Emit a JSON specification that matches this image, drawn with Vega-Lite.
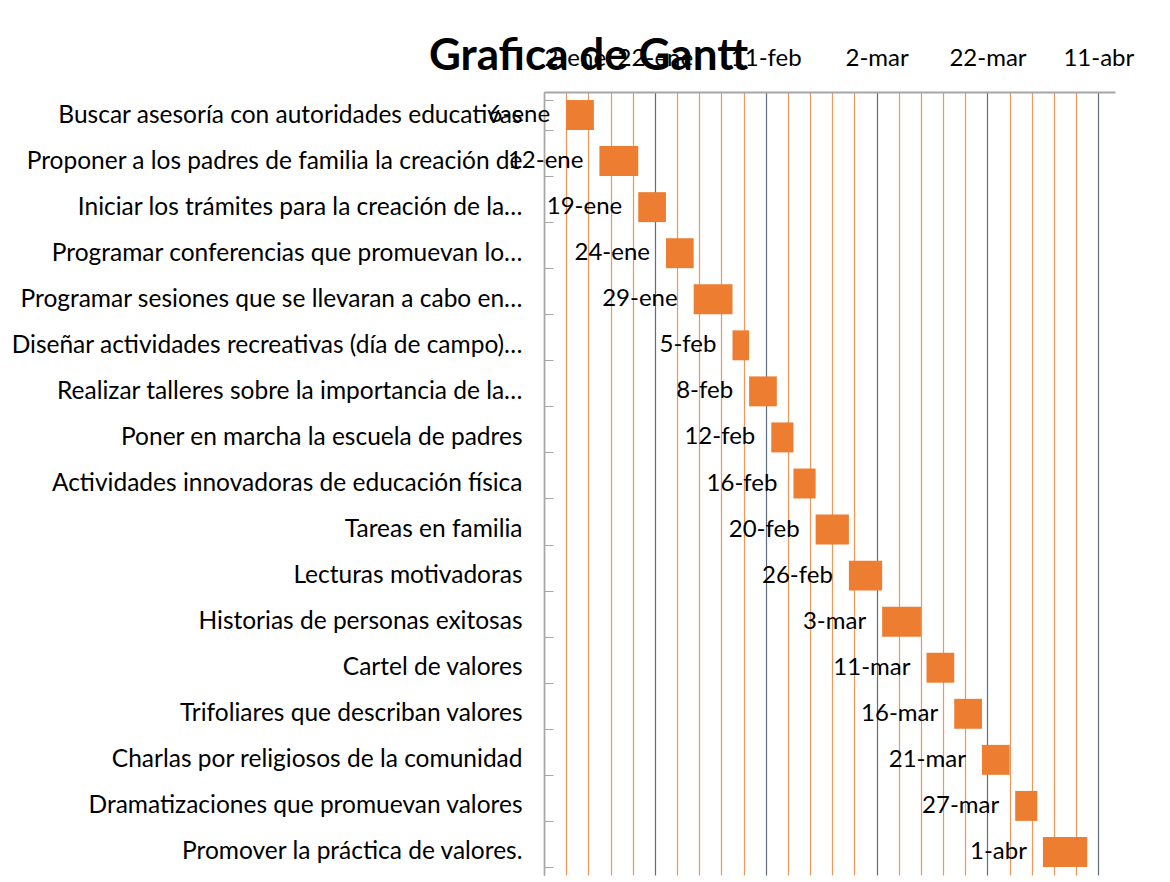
{
  "$schema": "https://vega.github.io/schema/vega-lite/v6.json",
  "width": 571,
  "height": 783,
  "autosize": {"type": "none"},
  "padding": {"left": 544, "top": 92, "right": 55, "bottom": 7},
  "background": "white",
  "title": {
    "text": "Grafica de Gantt",
    "font": "Lato",
    "fontSize": 44,
    "fontWeight": "bold",
    "color": "#000000",
    "anchor": "middle",
    "frame": "group",
    "baseline": "alphabetic",
    "offset": -68,
    "dx": -241
  },
  "data": {
    "values": [
      {"task": "Buscar asesoría con autoridades educativas", "start": "2016-01-06", "end": "2016-01-11", "label": "6-ene"},
      {"task": "Proponer a los padres de familia la creación de", "start": "2016-01-12", "end": "2016-01-19", "label": "12-ene"},
      {"task": "Iniciar los trámites para la creación de la…", "start": "2016-01-19", "end": "2016-01-24", "label": "19-ene"},
      {"task": "Programar conferencias que promuevan lo…", "start": "2016-01-24", "end": "2016-01-29", "label": "24-ene"},
      {"task": "Programar sesiones que se llevaran a cabo en…", "start": "2016-01-29", "end": "2016-02-05", "label": "29-ene"},
      {"task": "Diseñar actividades recreativas (día de campo)…", "start": "2016-02-05", "end": "2016-02-08", "label": "5-feb"},
      {"task": "Realizar talleres sobre la importancia de la…", "start": "2016-02-08", "end": "2016-02-13", "label": "8-feb"},
      {"task": "Poner en marcha la escuela de padres", "start": "2016-02-12", "end": "2016-02-16", "label": "12-feb"},
      {"task": "Actividades innovadoras de educación física", "start": "2016-02-16", "end": "2016-02-20", "label": "16-feb"},
      {"task": "Tareas en familia", "start": "2016-02-20", "end": "2016-02-26", "label": "20-feb"},
      {"task": "Lecturas motivadoras", "start": "2016-02-26", "end": "2016-03-03", "label": "26-feb"},
      {"task": "Historias de personas exitosas", "start": "2016-03-03", "end": "2016-03-10", "label": "3-mar"},
      {"task": "Cartel de valores", "start": "2016-03-11", "end": "2016-03-16", "label": "11-mar"},
      {"task": "Trifoliares que describan valores", "start": "2016-03-16", "end": "2016-03-21", "label": "16-mar"},
      {"task": "Charlas por religiosos de la comunidad", "start": "2016-03-21", "end": "2016-03-26", "label": "21-mar"},
      {"task": "Dramatizaciones que promuevan valores", "start": "2016-03-27", "end": "2016-03-31", "label": "27-mar"},
      {"task": "Promover la práctica de valores.", "start": "2016-04-01", "end": "2016-04-09", "label": "1-abr"}
    ]
  },
  "resolve": {"axis": {"x": "independent"}},
  "layer": [
    {
      "mark": {"type": "bar", "color": "#ED7D31"},
      "encoding": {
        "y": {
          "field": "task",
          "type": "nominal",
          "sort": null,
          "scale": {"paddingInner": 0.35, "paddingOuter": 0.175},
          "axis": {
            "title": null,
            "orient": "left",
            "labelFont": "Lato",
            "labelFontSize": 24.5,
            "labelColor": "#000000",
            "labelLimit": 700,
            "labelPadding": 31,
            "domainColor": "#A6A6A6",
            "domainWidth": 1.5,
            "tickColor": "#A6A6A6",
            "tickWidth": 1,
            "tickSize": -9,
            "tickBand": "extent",
            "grid": false
          }
        },
        "x": {
          "field": "start",
          "type": "temporal",
          "scale": {"type": "utc", "domain": [{"year": 2016, "month": 1, "date": 2, "utc": true}, {"year": 2016, "month": 4, "date": 14, "utc": true}]},
          "axis": {
            "orient": "top",
            "title": null,
            "labels": false,
            "ticks": false,
            "domain": false,
            "grid": true,
            "gridColor": "#F08A46",
            "gridWidth": 1.2,
            "gridOpacity": 0.9,
            "values": [
              {"year": 2016, "month": 1, "date": 6, "utc": true},
              {"year": 2016, "month": 1, "date": 10, "utc": true},
              {"year": 2016, "month": 1, "date": 14, "utc": true},
              {"year": 2016, "month": 1, "date": 18, "utc": true},
              {"year": 2016, "month": 1, "date": 26, "utc": true},
              {"year": 2016, "month": 1, "date": 30, "utc": true},
              {"year": 2016, "month": 2, "date": 3, "utc": true},
              {"year": 2016, "month": 2, "date": 7, "utc": true},
              {"year": 2016, "month": 2, "date": 15, "utc": true},
              {"year": 2016, "month": 2, "date": 19, "utc": true},
              {"year": 2016, "month": 2, "date": 23, "utc": true},
              {"year": 2016, "month": 2, "date": 27, "utc": true},
              {"year": 2016, "month": 3, "date": 6, "utc": true},
              {"year": 2016, "month": 3, "date": 10, "utc": true},
              {"year": 2016, "month": 3, "date": 14, "utc": true},
              {"year": 2016, "month": 3, "date": 18, "utc": true},
              {"year": 2016, "month": 3, "date": 26, "utc": true},
              {"year": 2016, "month": 3, "date": 30, "utc": true},
              {"year": 2016, "month": 4, "date": 3, "utc": true},
              {"year": 2016, "month": 4, "date": 7, "utc": true}
            ]
          }
        },
        "x2": {"field": "end"}
      }
    },
    {
      "mark": {"type": "text", "align": "right", "baseline": "middle", "dx": -16, "font": "Lato", "fontSize": 24, "color": "#000000"},
      "encoding": {
        "y": {"field": "task", "type": "nominal", "sort": null},
        "x": {
          "field": "start",
          "type": "temporal",
          "axis": {
            "orient": "top",
            "title": null,
            "labelFont": "Lato",
            "labelFontSize": 24,
            "labelColor": "#000000",
            "labelPadding": 22,
            "labelExpr": "utcdate(datum.value) + '-' + ['ene','feb','mar','abr','may'][utcmonth(datum.value)]",
            "ticks": false,
            "domain": true,
            "domainColor": "#A6A6A6",
            "domainWidth": 2,
            "grid": true,
            "gridColor": "#44546A",
            "gridWidth": 1.2,
            "gridOpacity": 0.85,
            "values": [
              {"year": 2016, "month": 1, "date": 2, "utc": true},
              {"year": 2016, "month": 1, "date": 22, "utc": true},
              {"year": 2016, "month": 2, "date": 11, "utc": true},
              {"year": 2016, "month": 3, "date": 2, "utc": true},
              {"year": 2016, "month": 3, "date": 22, "utc": true},
              {"year": 2016, "month": 4, "date": 11, "utc": true}
            ]
          }
        },
        "text": {"field": "label", "type": "nominal"}
      }
    }
  ],
  "config": {
    "view": {"stroke": null}
  }
}
